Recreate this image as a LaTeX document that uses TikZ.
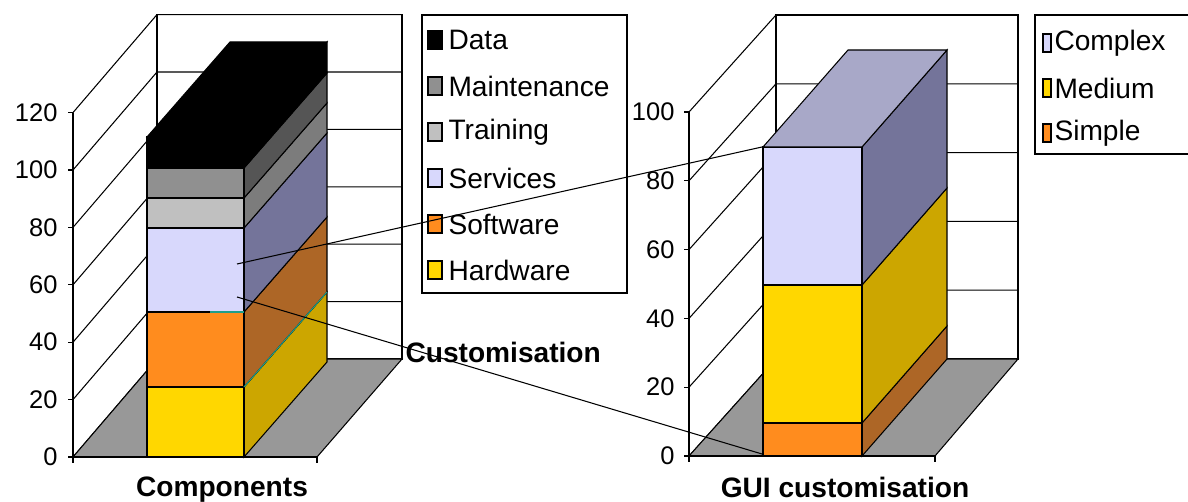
\documentclass[tikz,border=0pt]{standalone}
\usepackage{fontspec}
\setmainfont{Liberation Sans}
\usepackage{tikz}
\usetikzlibrary{calc}
\definecolor{floorgray}{HTML}{989898}
\definecolor{gold}{HTML}{FFD700}
\definecolor{goldside}{HTML}{CCA600}
\definecolor{orng}{HTML}{FF8C1E}
\definecolor{orngside}{HTML}{AD6626}
\definecolor{lav}{HTML}{D8D8FC}
\definecolor{lavside}{HTML}{74749A}
\definecolor{lavtop}{HTML}{A8A8C8}
\definecolor{lgray}{HTML}{C0C0C0}
\definecolor{lgrayside}{HTML}{7C7C7C}
\definecolor{mgray}{HTML}{909090}
\definecolor{mgrayside}{HTML}{555555}
\definecolor{seam}{HTML}{1F9E8A}

\begin{document}
\begin{tikzpicture}[x=0.2mm,y=-0.2mm,line width=0.6pt,
  ticklbl/.style={font=\fontsize{14.5}{17}\selectfont,anchor=east,inner sep=0pt},
  leg/.style={font=\fontsize{16}{19}\selectfont,anchor=west,inner sep=0pt},
  catlbl/.style={font=\fontsize{16}{19}\selectfont\bfseries,inner sep=0pt},
  swatch/.style={draw=black,line width=0.8pt,inner sep=0pt,minimum width=2.8mm,minimum height=3.6mm},
  slim/.style={swatch,minimum width=1.6mm}]
\useasboundingbox (0,0) rectangle (1188,502);

% left chart: walls and floor
\draw[fill=white] (157,14.6) rectangle (402,359);
\foreach \v in {0,20,...,120}{
  \pgfmathsetmacro\yy{457-2.87*\v}
  \draw (73,\yy) -- ++(84,-98) -- (402,\yy-98);
  \draw (68,\yy) -- (73,\yy);
  \node[ticklbl] (la\v) at (58,\yy) {\v};
}
\draw[fill=floorgray] (73,457) -- (317,457) -- (402,359) -- (157,359) -- cycle;
\draw (73,112.6) -- (73,457) -- (317,457);
\draw (73,457) -- (73,463) (317,457) -- (317,463);

% left chart: stacked bar
\foreach \yb/\yt/\fc/\sc in {457/387/gold/goldside,387/312/orng/orngside,312/228/lav/lavside,
  228/198/lgray/lgrayside,198/168/mgray/mgrayside,168/137/black/black}{
  \draw[fill=\sc] (244,\yb) -- ++(83,-95) -- (327,\yt-95) -- (244,\yt) -- cycle;
  \draw[fill=\fc] (147,\yb) rectangle (244,\yt);
}
\draw[fill=black] (147,137) -- ++(83,-95) -- ++(97,0) -- (244,137) -- cycle;
\draw[seam] (210,312) -- (244,312);
\draw[seam] (244,387) -- ++(83,-95);

\node[catlbl] (compLbl) at (222,490) {Components};

% left legend
\draw[fill=white,line width=0.9pt] (422,15) rectangle (627,293);
\foreach \n/\c/\t [count=\i from 0] in {d/black/Data,m/mgray/Maintenance,t/lgray/Training,
  s/lav/Services,w/orng/Software,h/gold/Hardware}{
  \node[swatch,fill=\c] (sw\n) at (435,40+46*\i) {};
  \node[leg] (lg\n) at (448,40+46*\i) {\t};
}

% right chart: walls and floor
\draw[fill=white] (776,15) rectangle (1018,359);
\foreach \v in {0,20,...,100}{
  \pgfmathsetmacro\yy{456-3.44*\v}
  \draw (689,\yy) -- ++(87,-97) -- (1018,\yy-97);
  \draw (684,\yy) -- (689,\yy);
  \node[ticklbl] (lb\v) at (675,\yy) {\v};
}
\draw[fill=floorgray] (689,456) -- (935,456) -- (1018,359) -- (776,359) -- cycle;
\draw (689,112) -- (689,456) -- (935,456);
\draw (689,456) -- (689,462) (935,456) -- (935,462);

% right chart: stacked bar
\foreach \yb/\yt/\fc/\sc in {456/423/orng/orngside,423/285/gold/goldside,285/147/lav/lavside}{
  \draw[fill=\sc] (862,\yb) -- ++(85,-97) -- (947,\yt-97) -- (862,\yt) -- cycle;
  \draw[fill=\fc] (763,\yb) rectangle (862,\yt);
}
\draw[fill=lavtop] (763,147) -- ++(85,-97) -- ++(99,0) -- (862,147) -- cycle;

\node[catlbl] (guiLbl) at (845,487) {GUI customisation};

% right legend (runs off the edge)
\draw[line width=0.9pt] (1188,15) -- (1035,15) -- (1035,154) -- (1188,154);
\foreach \n/\c/\t [count=\i from 0] in {c/lav/Complex,m/gold/Medium,s/orng/Simple}{
  \node[slim,fill=\c] (rs\n) at (1047,43+45*\i) {};
  \node[leg] (rl\n) at (1054,43+45*\i) {\t};
}

% customisation links
\node[catlbl,anchor=west] (custLbl) at (405,352) {Customisation};
\coordinate (svcHi) at (237,264);
\coordinate (svcLo) at (237,297);
\coordinate (guiTop) at (762,147);
\coordinate (guiBot) at (762,454);
\draw (svcHi) -- (guiTop);
\draw (svcLo) -- (guiBot);
\end{tikzpicture}
\end{document}
